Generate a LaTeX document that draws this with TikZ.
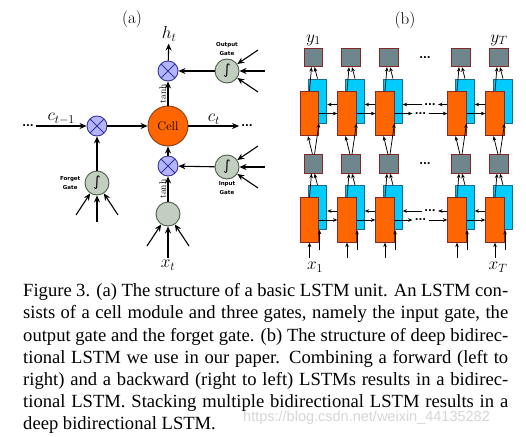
\documentclass[tikz,border=0pt]{standalone}
\usepackage{fontspec}
\newfontfamily\captionfont{Liberation Serif}
\newfontfamily\markfont{Liberation Sans}
\newfontfamily\gatefont{DejaVu Sans}
\usetikzlibrary{shapes.geometric,arrows,arrows.meta,positioning,calc}

\definecolor{mulfill}{HTML}{B4B4FF}
\definecolor{muldraw}{HTML}{36369A}
\definecolor{gatefill}{HTML}{C2CEBF}
\definecolor{gatedraw}{HTML}{4E5E4C}
\definecolor{cellfill}{HTML}{FF6600}
\definecolor{celldraw}{HTML}{8C3C14}
\definecolor{fwdfill}{HTML}{FF6600}
\definecolor{boxdraw}{HTML}{852828}
\definecolor{bwdfill}{HTML}{00CCFF}
\definecolor{bwddraw}{HTML}{1D6C8A}
\definecolor{outfill}{HTML}{6E868C}

\tikzset{
  mult/.style={shape=circle, draw=muldraw, fill=mulfill, line width=0.9pt, minimum size=20pt, inner sep=0pt,
    path picture={\draw[muldraw, line width=0.9pt] (path picture bounding box.north west) -- (path picture bounding box.south east)
      (path picture bounding box.north east) -- (path picture bounding box.south west);}},
  gate/.style={shape=circle, draw=gatedraw, fill=gatefill, line width=0.9pt, minimum size=24pt, inner sep=0pt, font=\gatefont\fontsize{14}{14}\selectfont},
  cellnode/.style={shape=circle, draw=celldraw, fill=cellfill, line width=0.9pt, minimum size=40pt, inner sep=0pt, font=\fontsize{12.5}{12.5}\selectfont},
  gatelbl/.style={font=\gatefont\bfseries\fontsize{5.5}{9}\selectfont, align=center, inner sep=1pt},
  mathlbl/.style={font=\fontsize{17}{17}\selectfont, inner sep=2pt},
  tanhlbl/.style={font=\fontsize{9.5}{9.5}\selectfont, rotate=90, anchor=south, inner sep=1.5pt},
  dotsnode/.style={font=\gatefont\bfseries\fontsize{10}{10}\selectfont, inner sep=2pt},
  fwdbox/.style={shape=rectangle, draw=boxdraw, fill=fwdfill, line width=0.8pt, minimum width=18.5pt, minimum height=44.5pt, inner sep=0pt},
  bwdbox/.style={shape=rectangle, draw=bwddraw, fill=bwdfill, line width=0.8pt, minimum width=18.5pt, minimum height=44pt, inner sep=0pt},
  outbox/.style={shape=rectangle, draw=boxdraw, fill=outfill, line width=0.8pt, minimum size=18.5pt, inner sep=0pt},
}

\begin{document}
\begin{tikzpicture}[x=1pt,y=-1pt,>=stealth]
\path[fill=white] (0,0) rectangle (526,436);
\useasboundingbox (0,0) rectangle (526,436);

% (a) create the nodes
\node (labela) at (132,19) {\fontsize{17}{17}\selectfont (a)};
\node (cell)[cellnode] at (168,126) {Cell};
\node (mtop)[mult] at (168,71) {};
\node (mleft)[mult] at (97,126) {};
\node (mbot)[mult] at (168,166) {};
\node (ogate)[gate, label={[gatelbl, label distance=2pt]above:{Output\\Gate}}] at (227,71) {∫};
\node (igate)[gate, label={[gatelbl, label distance=1pt]below:{Input\\Gate}}] at (227,167) {∫};
\node (fgate)[gate, label={[gatelbl, label distance=3pt]left:{Forget\\Gate}}] at (97,183) {∫};
\node (ucirc)[gate] at (168,214) {};
\node (ht)[mathlbl] at (169,34) {$h_t$};
\node (xt)[mathlbl] at (168,265) {$x_t$};
\node (ldots)[dotsnode] at (28,126) {...};
\node (rdots)[dotsnode] at (247,126) {...};

% (a) connect the nodes
\begin{scope}[line width=1.1pt, >={Stealth[length=7pt,width=6pt]}]
\draw[->] (ldots) -- node[mathlbl, above, inner sep=1pt] {$c_{t-1}$} (mleft);
\draw[->] (mleft) -- (cell);
\draw[->] (cell) -- node[mathlbl, above, inner sep=1pt] {$c_t$} (rdots);
\draw[->] (fgate) -- (mleft);
\draw[->] (mbot) -- (cell);
\draw[->] (igate) -- (mbot);
\draw[->] (ucirc) -- node[tanhlbl] {tanh} (mbot);
\draw[->] (cell) -- node[tanhlbl] {tanh} (mtop);
\draw[->] (ogate) -- (mtop);
\draw[->] (mtop) -- (ht);
\draw[->] (xt) -- (ucirc);
\foreach \g in {ogate,igate}
  \foreach \dx/\dy [count=\k] in {31/-21,38/0,31/21}{
    \coordinate (\g-in\k) at ($(\g)+(\dx,\dy)$);
    \draw[->] (\g-in\k) -- (\g);
  }
\foreach \dx/\dy [count=\k] in {-21/32,0/39,21/32}{
  \coordinate (fgate-in\k) at ($(fgate)+(\dx,\dy)$);
  \draw[->] (fgate-in\k) -- (fgate);
}
\foreach \dx/\dy [count=\k] in {-21/32,21/32}{
  \coordinate (ucirc-in\k) at ($(ucirc)+(\dx,\dy)$);
  \draw[->] (ucirc-in\k) -- (ucirc);
}
\end{scope}

% (b) create the nodes
\node (labelb) at (405,20) {\fontsize{17}{17}\selectfont (b)};
\foreach \cx [count=\i] in {309.5,347,385,457,495}{
  \node (b1-\i)[bwdbox] at (\cx+8,207.5) {};
  \node (f1-\i)[fwdbox] at (\cx,220) {};
  \node (g1-\i)[outbox] at (\cx+4,164) {};
  \node (b2-\i)[bwdbox] at (\cx+8,101) {};
  \node (f2-\i)[fwdbox] at (\cx,113.5) {};
  \node (g2-\i)[outbox] at (\cx+4,57.5) {};
  \coordinate (xf-\i) at (\cx,258);
  \coordinate (xb-\i) at (\cx+10,250);
}
\node (y1)[mathlbl, above=0pt of g2-1] {$y_1$};
\node (yT)[mathlbl, above=0pt of g2-5] {$y_T$};
\node (x1)[mathlbl] at (315,267) {$x_1$};
\node (xT)[mathlbl] at (498,267) {$x_T$};
\node (gdots1)[dotsnode] at (425,164) {...};
\node (gdots2)[dotsnode] at (425,58) {...};

% (b) connect the nodes
\begin{scope}[line width=0.75pt, >={Stealth[length=4.5pt,width=3.6pt]}]
\foreach \i in {1,...,5}{
  \draw[->] (xf-\i) -- (f1-\i.south);
  \draw[->] (xb-\i) -- (xb-\i |- b1-\i.south);
  \foreach \l in {1,2}{
    \draw[->] (f\l-\i.north) -- ([xshift=-2pt]g\l-\i.south);
    \draw[->] (b\l-\i.north) -- ([xshift=1pt]g\l-\i.south);
  }
  \draw[->] ([xshift=-1pt]g1-\i.north) -- ([xshift=-1.5pt]f2-\i.south);
  \draw[->] ([xshift=1pt]g1-\i.north) -- ([xshift=1.5pt]b2-\i.south);
}
\foreach \l/\y in {1/220,2/113.5}{
  \foreach \i/\j in {1/2,2/3,4/5}{
    \draw[->] (f\l-\i.east) -- (f\l-\j.west);
    \draw[->] ($(f\l-\j.west)+(0,-9)$) -- ($(b\l-\i.east)+(0,3.5)$);
  }
  \node (fdots\l)[dotsnode] at (420.5,\y) {...};
  \node (bdots\l)[dotsnode] at (430,\y-9) {...};
  \draw[->] (f\l-3.east) -- (fdots\l.west);
  \draw[->] (fdots\l.east) -- (f\l-4.west);
  \draw[->] ($(f\l-4.west)+(0,-9)$) -- (bdots\l.east);
  \draw[->] (bdots\l.west) -- ($(b\l-3.east)+(0,3.5)$);
}
\end{scope}

% caption
\node (mark)[anchor=base west, inner sep=0pt, text=black!16, font=\markfont\fontsize{14.5}{14.5}\selectfont] at (243,421.5) {https://blog.csdn.net/weixin\_44135282};
\node (caption)[anchor=north west, text width=485pt, align=justify, inner sep=0pt,
  font=\captionfont\fontsize{18.6}{22.1}\selectfont] at (23,283.5) {\hyphenpenalty=10000 \tolerance=9999
  Figure 3. (a) The structure of a basic LSTM unit. An LSTM con-\linebreak
  sists of a cell module and three gates, namely the input gate, the\linebreak
  output gate and the forget gate. (b) The structure of deep bidirec-\linebreak
  tional LSTM we use in our paper. Combining a forward (left to\linebreak
  right) and a backward (right to left) LSTMs results in a bidirec-\linebreak
  tional LSTM. Stacking multiple bidirectional LSTM results in a\linebreak
  deep bidirectional LSTM.};

\end{tikzpicture}
\end{document}
